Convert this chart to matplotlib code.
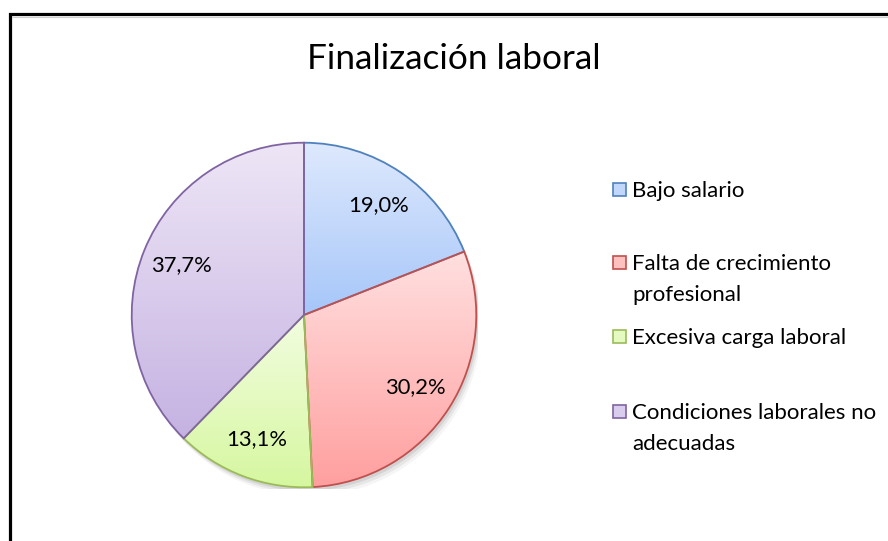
import numpy as np
import matplotlib.pyplot as plt
from matplotlib.patches import Rectangle, Circle
from matplotlib.lines import Line2D
from matplotlib.colors import to_rgb

plt.rcParams['font.family'] = ['Lato', 'DejaVu Sans']

title = "Finalización laboral"
categories = ["Bajo salario", "Falta de crecimiento\nprofesional",
              "Excesiva carga laboral", "Condiciones laborales no\nadecuadas"]
values = [19.0, 30.2, 13.1, 37.7]
# colores: arriba, abajo, borde
top_colors = ["#dee9fd", "#ffe0e0", "#f2fde0", "#eee6f6"]
bottom_colors = ["#a6c6f9", "#ff9f9f", "#d6f7a0", "#c5b2e2"]
edge_colors = ["#4f81bd", "#c0504d", "#9bbb59", "#8064a2"]

W, H = 888, 541
fig = plt.figure(figsize=(W/100, H/100), dpi=100)

# capa en pixeles para marco, titulo y leyenda
over = fig.add_axes([0, 0, 1, 1])
over.set_xlim(0, W)
over.set_ylim(H, 0)
over.axis('off')
over.add_line(Line2D([9.5, 9.5, W], [H, 14, 14], color='black', lw=2.3,
                     solid_joinstyle='miter'))
over.add_line(Line2D([11.5, W], [16.5, 16.5], color='#d0d0d0', lw=0.8))
over.text(454, 69, title, fontsize=25.3, ha='center', va='baseline')

# pie
cx, cy, r = 304, 315, 174
ax = fig.add_axes([(cx - r)/W, (H - cy - r)/H, 2*r/W, 2*r/H])

# sombra suave
for k, a in zip([5, 3.5, 2], [0.04, 0.06, 0.08]):
    ax.add_patch(Circle((0.006*k, -0.01*k), 1.0, color='black', alpha=a,
                        lw=0, zorder=0))

wedges, texts, autotexts = ax.pie(
    values, startangle=90, counterclock=False, radius=1,
    autopct=lambda p: f"{p:.1f}%".replace('.', ','), pctdistance=0.77,
    wedgeprops=dict(linewidth=1.3), textprops=dict(fontsize=15.8))

for w, c0, c1, ec in zip(wedges, top_colors, bottom_colors, edge_colors):
    w.set_facecolor('none')
    w.set_edgecolor(ec)
    w.set_zorder(3)
    bb = w.get_path().get_extents()
    t = np.linspace(0, 1, 256)[:, None, None]
    grad = (1 - t) * np.array(to_rgb(c0)) + t * np.array(to_rgb(c1))
    im = ax.imshow(grad, extent=(bb.x0, bb.x1, bb.y0, bb.y1), origin='upper',
                   aspect='auto', zorder=2, interpolation='bilinear')
    im.set_clip_path(w)
for t in autotexts:
    t.set_zorder(5)

ax.set_xlim(-1.01, 1.01)
ax.set_ylim(-1.01, 1.01)
ax.set_aspect('equal')
ax.axis('off')

# leyenda
legend_baselines = [197, 270, 344, 419]
for lab, yb, c0, c1, ec in zip(categories, legend_baselines, top_colors,
                               bottom_colors, edge_colors):
    mid = tuple((np.array(to_rgb(c0)) + np.array(to_rgb(c1))) / 2)
    over.add_patch(Rectangle((613, yb - 14), 13, 13, facecolor=mid,
                             edgecolor=ec, lw=1.2))
    for i, line in enumerate(lab.split("\n")):
        over.text(632, yb + 31*i, line, fontsize=16, ha='left',
                  va='baseline')

fig.savefig("out.png", dpi=100)
